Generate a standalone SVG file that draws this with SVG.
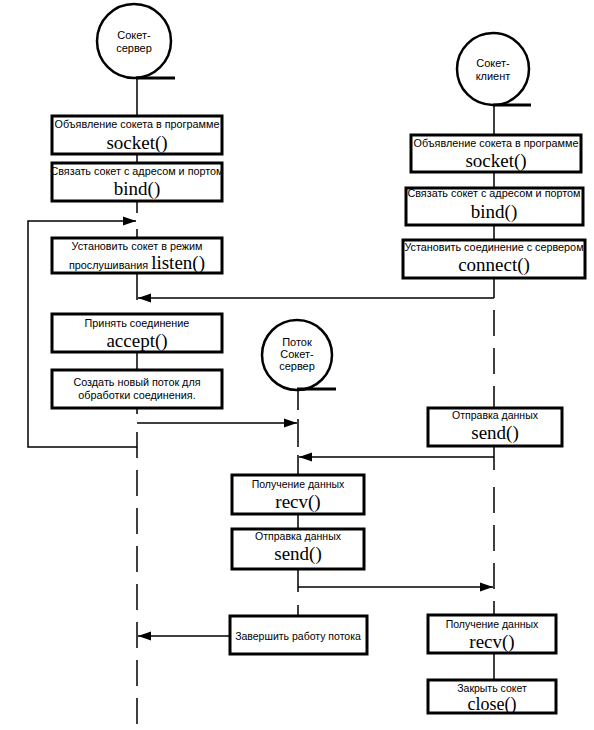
<svg xmlns="http://www.w3.org/2000/svg" width="594" height="730" viewBox="0 0 594 730">
<style>
.box{fill:#fff;stroke:#000;stroke-width:3}
.circ{fill:#fff;stroke:#000;stroke-width:2.5}
.ul{stroke:#000;stroke-width:3}
.life{stroke:#000;stroke-width:1.5;fill:none}
.conn{stroke:#000;stroke-width:1.5;fill:none}
.sm{font-family:"Liberation Sans",Arial,sans-serif;font-size:10.8px;fill:#000;text-anchor:middle}
.cs{font-family:"Liberation Sans",Arial,sans-serif;font-size:10.5px;fill:#000;text-anchor:middle}
.ct{font-family:"Liberation Sans",Arial,sans-serif;font-size:11px;fill:#000;text-anchor:middle}
.big{font-family:"Liberation Serif","Times New Roman",serif;font-size:19px;fill:#000;text-anchor:middle}
</style>
<defs>
<marker id="ah" markerUnits="userSpaceOnUse" markerWidth="14" markerHeight="10" refX="13" refY="5" orient="auto">
<path d="M0,0.5 L13,5 L0,9.5 Z" fill="#000"/>
</marker>
</defs>

<g id="lifelines">
<path class="life" d="M137,78 V116 M137,154 V163 M137,201 V213 M137,229 V238 M137,273 V300 M137,352 V370 M137,408 V414"/>
<line class="life" x1="137" y1="432" x2="137" y2="724" stroke-dasharray="26 12"/>
<path class="life" d="M298,389 V410 M298,419 V447 M298,455 V475 M298,514 V529 M298,569 V592 M298,605 V616"/>
<path class="life" d="M494,105 V135 M494,172 V188 M494,225 V240 M494,278 V298 M494,310 V336 M494,348 V374 M494,386 V408 M494,446 V470"/>
<line class="life" x1="494" y1="487" x2="494" y2="615" stroke-dasharray="26 12"/>
<path class="life" d="M494,653 V680"/>
</g>

<g id="connectors">
<path class="conn" d="M137,447 H28 V221 H136" marker-end="url(#ah)"/>
<path class="conn" d="M494,298 H138" marker-end="url(#ah)"/>
<path class="conn" d="M137,423 H297" marker-end="url(#ah)"/>
<path class="conn" d="M494,457 H299" marker-end="url(#ah)"/>
<path class="conn" d="M298,587 H493" marker-end="url(#ah)"/>
<path class="conn" d="M230,636 H138" marker-end="url(#ah)"/>
</g>

<g id="server-socket">
<circle class="circ" cx="134" cy="41" r="37"/>
<line class="ul" x1="136" y1="78" x2="175" y2="78"/>
<text class="ct" x="134" y="39">Сокет-</text>
<text class="ct" x="134" y="52">сервер</text>
</g>

<g id="client-socket">
<circle class="circ" cx="493" cy="69" r="36"/>
<line class="ul" x1="493" y1="105" x2="531" y2="105"/>
<text class="ct" x="493" y="67">Сокет-</text>
<text class="ct" x="493" y="80">клиент</text>
</g>

<g id="thread-socket">
<circle class="circ" cx="297" cy="355" r="35"/>
<line class="ul" x1="297" y1="389" x2="336" y2="389"/>
<text class="ct" x="297" y="346">Поток</text>
<text class="ct" x="297" y="358">Сокет-</text>
<text class="ct" x="297" y="370">сервер</text>
</g>

<g id="s-socket">
<rect class="box" x="52" y="116" width="170" height="38"/>
<text class="sm" x="137" y="128">Объявление сокета в программе</text>
<text class="big" x="137" y="149">socket()</text>
</g>
<g id="s-bind">
<rect class="box" x="52" y="163" width="170" height="38"/>
<text class="sm" x="137" y="175">Связать сокет с адресом и портом</text>
<text class="big" x="137" y="195">bind()</text>
</g>
<g id="s-listen">
<rect class="box" x="52" y="238" width="170" height="35"/>
<text class="sm" x="137" y="250">Установить сокет в режим</text>
<text class="sm" x="69" y="269" style="text-anchor:start">прослушивания</text>
<text class="big" x="205" y="269" style="text-anchor:end">listen()</text>
</g>
<g id="s-accept">
<rect class="box" x="52" y="314" width="170" height="38"/>
<text class="sm" x="137" y="327">Принять соединение</text>
<text class="big" x="137" y="347">accept()</text>
</g>
<g id="s-thread">
<rect class="box" x="52" y="370" width="170" height="38"/>
<text class="sm" x="137" y="386">Создать новый поток для</text>
<text class="sm" x="137" y="399">обработки соединения.</text>
</g>

<g id="c-socket">
<rect class="box" x="411" y="135" width="170" height="37"/>
<text class="sm" x="496" y="147">Объявление сокета в программе</text>
<text class="big" x="496" y="167">socket()</text>
</g>
<g id="c-bind">
<rect class="box" x="406" y="188" width="177" height="37"/>
<text class="sm" x="494" y="197">Связать сокет с адресом и портом</text>
<text class="big" x="494" y="218">bind()</text>
</g>
<g id="c-connect">
<rect class="box" x="403" y="240" width="182" height="38"/>
<text class="sm" x="494" y="251">Установить соединение с сервером</text>
<text class="big" x="494" y="271">connect()</text>
</g>
<g id="c-send">
<rect class="box" x="428" y="408" width="134" height="38"/>
<text class="cs" x="495" y="419">Отправка данных</text>
<text class="big" x="495" y="439">send()</text>
</g>
<g id="t-recv">
<rect class="box" x="232" y="475" width="132" height="39"/>
<text class="cs" x="298" y="488">Получение данных</text>
<text class="big" x="298" y="508">recv()</text>
</g>
<g id="t-send">
<rect class="box" x="232" y="529" width="132" height="40"/>
<text class="cs" x="298" y="540">Отправка данных</text>
<text class="big" x="298" y="560">send()</text>
</g>
<g id="t-end">
<rect class="box" x="230" y="616" width="137" height="38"/>
<text class="cs" x="298" y="640">Завершить работу потока</text>
</g>
<g id="c-recv">
<rect class="box" x="428" y="615" width="128" height="38"/>
<text class="cs" x="492" y="628">Получение данных</text>
<text class="big" x="492" y="648">recv()</text>
</g>
<g id="c-close">
<rect class="box" x="428" y="680" width="128" height="33"/>
<text class="cs" x="492" y="692">Закрыть сокет</text>
<text class="big" x="492" y="710" style="font-size:18px">close()</text>
</g>
</svg>
